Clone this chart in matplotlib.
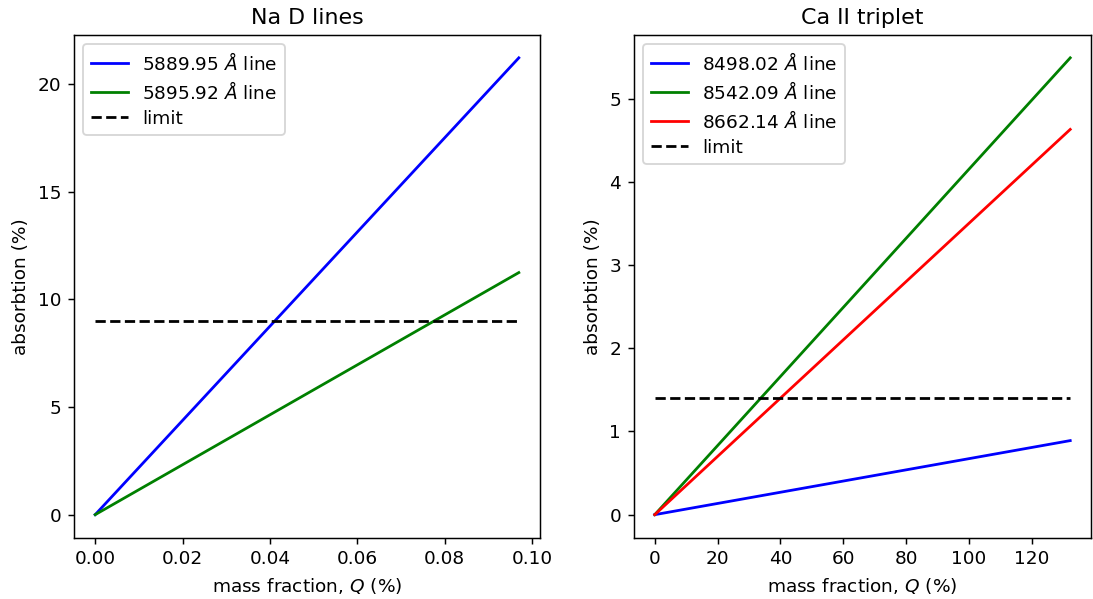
import numpy as np
import matplotlib.pyplot as plt

# Na D lines
q_na = [0.0, 0.097]
na_5890 = [0.0, 21.23]
na_5896 = [0.0, 11.25]
na_limit = 9.0

# Ca II triplet
q_ca = [0.0, 132.2]
ca_8498 = [0.0, 0.89]
ca_8542 = [0.0, 5.49]
ca_8662 = [0.0, 4.63]
ca_limit = 1.4

dpi = 133
W, H = 1093, 599
fig = plt.figure(figsize=(W / dpi, H / dpi), dpi=dpi)
ax1 = fig.add_axes([74 / W, 1 - 537.5 / H, 466 / W, 502.5 / H])
ax2 = fig.add_axes([634 / W, 1 - 537.5 / H, 457 / W, 502.5 / H])

ax1.plot(q_na, na_5890, "b-", label=r"5889.95 $\AA$ line")
ax1.plot(q_na, na_5896, "g-", label=r"5895.92 $\AA$ line")
ax1.plot(q_na, [na_limit] * len(q_na), "k--", label="limit")
ax1.set_title("Na D lines")
ax1.set_xlabel(r"mass fraction, $Q$ (%)")
ax1.set_ylabel("absorbtion (%)")
ax1.legend(loc="upper left", labelspacing=0.38)

ax2.plot(q_ca, ca_8498, "b-", label=r"8498.02 $\AA$ line")
ax2.plot(q_ca, ca_8542, "g-", label=r"8542.09 $\AA$ line")
ax2.plot(q_ca, ca_8662, "r-", label=r"8662.14 $\AA$ line")
ax2.plot(q_ca, [ca_limit] * len(q_ca), "k--", label="limit")
ax2.set_title("Ca II triplet")
ax2.set_xlabel(r"mass fraction, $Q$ (%)")
ax2.set_ylabel("absorbtion (%)")
ax2.legend(loc="upper left", labelspacing=0.38)

fig.savefig("out.png", dpi=dpi)
